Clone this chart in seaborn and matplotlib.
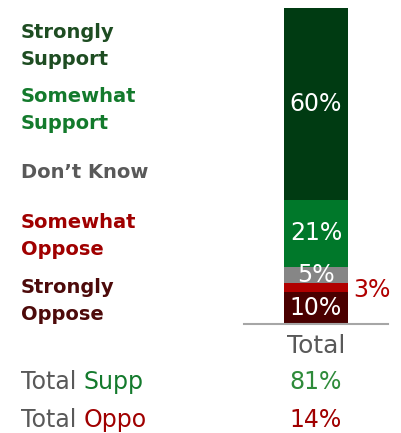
import numpy as np
import pandas as pd
import matplotlib
matplotlib.use("Agg")
import matplotlib.pyplot as plt
import seaborn as sns

# Survey responses, bottom to top of the stacked bar
responses = ["Strongly Oppose", "Somewhat Oppose", "Don't Know", "Somewhat Support", "Strongly Support"]
values = [10, 3, 5, 21, 60]
bar_colors = ["#4a0000", "#b00000", "#868686", "#00782a", "#003b12"]
label_colors = ["#4d0a0a", "#a00000", "#595959", "#137a2c", "#1e4d22"]
left_labels = ["Strongly\nOppose", "Somewhat\nOppose", "Don\u2019t Know", "Somewhat\nSupport", "Strongly\nSupport"]
left_label_y = [301, 236, 173, 110, 46]  # pixel centres from top
group = "Total"
total_support = 81
total_oppose = 14

sns.set_style("white")
plt.rcParams["font.family"] = ["DejaVu Sans"]

W, H = 401, 433
fig = plt.figure(figsize=(W / 100, H / 100), dpi=100)
ax = fig.add_axes([244 / W, 1 - 324 / H, 144 / W, 316 / H])

df = pd.DataFrame({"response": responses, "value": values, "color": bar_colors})
df["top"] = df["value"].cumsum()
df["bottom"] = df["top"] - df["value"]
df["group"] = group

# stacked bar: draw cumulative tops, tallest first
for i in range(len(df) - 1, -1, -1):
    row = df.iloc[[i]]
    sns.barplot(data=row, x="group", y="top", color=row["color"].iloc[0],
                width=64 / 144, saturation=1, ax=ax, edgecolor="none", linewidth=0)

ax.set_xlim(-0.5, 0.5)
ax.set_ylim(0, df["top"].iloc[-1])
ax.set_ylabel("")
ax.set_xlabel("")
ax.set_yticks([])
for s in ["left", "right", "top"]:
    ax.spines[s].set_visible(False)
ax.spines["bottom"].set_color("#a6a6a6")
ax.spines["bottom"].set_linewidth(1.5)
ax.tick_params(axis="x", length=0, pad=7, labelsize=18, labelcolor="#595959")

# value labels
for _, r in df.iterrows():
    mid = (r["top"] + r["bottom"]) / 2
    if r["value"] >= 5:
        ax.text(0, mid, f"{r['value']}%", ha="center", va="center",
                color="white", fontsize=17)
    else:
        ax.text(0.39, mid - 0.8, f"{r['value']}%", ha="center", va="center",
                color="#b00000", fontsize=17)

# left-side category labels
for lab, y, c in zip(left_labels, left_label_y, label_colors):
    fig.text(21 / W, 1 - y / H, lab, ha="left", va="center", color=c,
             fontsize=14, fontweight="bold", linespacing=1.55)

# totals below
t1 = fig.text(21 / W, 1 - 382 / H, "Total ", ha="left", va="center", color="#595959", fontsize=17)
t2 = fig.text(21 / W, 1 - 420 / H, "Total ", ha="left", va="center", color="#595959", fontsize=17)
fig.canvas.draw()
r = fig.canvas.get_renderer()
w1 = t1.get_window_extent(r).width
fig.text(21 / W + w1 / W, 1 - 382 / H, "Supp", ha="left", va="center", color="#137a2c", fontsize=17)
fig.text(21 / W + w1 / W, 1 - 420 / H, "Oppo", ha="left", va="center", color="#a00000", fontsize=17)
fig.text(316 / W, 1 - 382 / H, f"{total_support}%", ha="center", va="center", color="#2e8b3a", fontsize=17)
fig.text(316 / W, 1 - 420 / H, f"{total_oppose}%", ha="center", va="center", color="#a00000", fontsize=17)

fig.savefig("out.png", dpi=100)
